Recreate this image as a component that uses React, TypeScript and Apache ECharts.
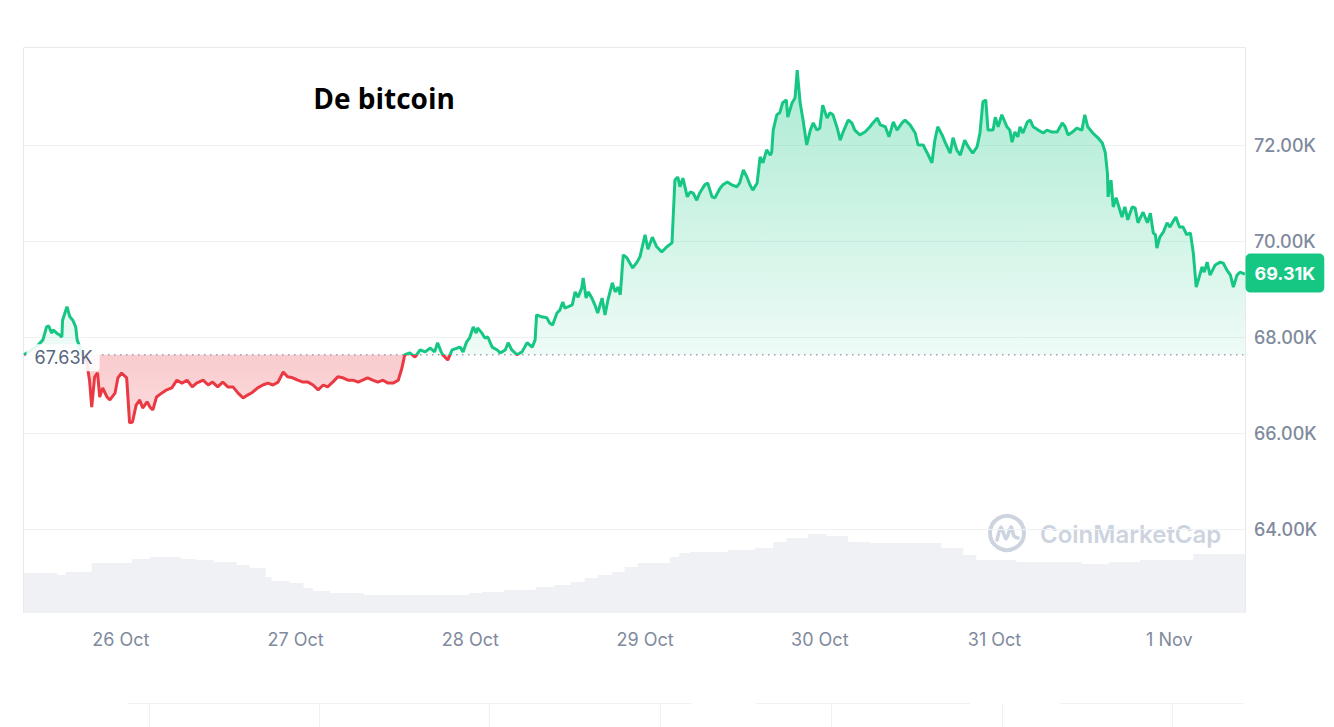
import React, { useEffect, useRef } from 'react';
import * as echarts from 'echarts';

const TITLE = 'De bitcoin';
const WATERMARK = 'CoinMarketCap';
const MONTHS = ['Jan', 'Feb', 'Mar', 'Apr', 'May', 'Jun', 'Jul', 'Aug', 'Sep', 'Oct', 'Nov', 'Dec'];

// hours relative to 26 Oct 2024 00:00
const X_MIN_H = -13.3;
const X_MAX_H = 154.4;
const BASELINE = 67630;
const LAST_PRICE = 69310;
const Y_MIN = 62000;
const Y_MAX = 74000;
const Y_STEP = 2000;

const HOURS = [-13.3,-12.5,-11.5,-10.7,-10.2,-9.9,-9.5,-9.3,-8.8,-8.4,-8.1,-8.0,-7.4,-7.0,-6.6,-6.2,-6.0,-5.4,-4.7,-4.3,-4.0,-3.6,-3.2,-2.9,-2.5,-1.9,-1.5,-0.8,-0.4,0.1,0.8,1.0,1.2,1.6,2.1,2.6,3.0,3.6,4.0,4.4,4.9,5.6,6.3,7.0,7.7,8.4,9.1,9.8,10.4,11.3,12.0,12.6,13.3,14.0,14.7,15.4,16.1,16.8,17.4,18.1,18.8,19.5,20.2,20.9,21.6,22.3,22.9,23.6,24.3,25.0,25.7,26.4,27.1,27.8,28.4,29.1,29.8,30.5,31.2,31.9,32.6,33.2,33.9,34.6,35.3,36.0,36.7,37.4,38.1,38.6,39.0,39.7,40.4,41.1,41.8,42.5,43.1,43.5,44.0,44.2,44.9,45.5,46.2,46.6,47.0,47.5,47.9,48.4,48.8,49.0,49.6,50.0,50.4,51.0,51.7,52.1,52.8,53.2,53.7,54.4,55.1,55.8,56.5,56.9,57.1,57.8,58.5,58.9,59.3,59.9,60.3,60.7,61.0,61.4,62.0,62.4,62.8,63.3,63.5,63.9,64.2,64.7,65.1,65.5,66.1,66.5,66.9,67.5,67.9,68.3,68.6,69.0,69.5,69.9,70.3,70.9,71.3,72.0,72.4,73.0,73.6,74.3,75.0,75.7,76.1,76.5,76.8,77.2,77.8,78.2,78.6,79.1,79.5,80.2,80.6,81.2,81.6,82.3,82.7,83.3,83.9,84.6,85.0,85.5,86.0,86.4,86.8,87.4,87.8,88.2,88.7,89.2,89.4,89.6,90.1,90.5,90.9,91.4,91.6,92.2,92.6,92.9,93.3,93.7,94.2,94.7,95.1,95.6,96.0,96.4,97.0,97.4,97.8,98.4,98.8,99.2,99.9,100.4,100.8,101.5,102.2,102.9,103.3,103.9,104.3,105.0,105.5,106.1,106.6,107.3,107.7,108.4,109.1,109.5,110.2,110.7,111.4,111.8,112.2,112.8,113.2,113.9,114.3,114.8,115.3,115.9,116.4,117.0,117.6,118.0,118.4,118.8,119.1,119.8,120.1,120.5,121.0,121.7,122.1,122.4,122.8,123.2,123.5,123.9,124.5,124.9,125.3,126.0,126.7,127.2,127.9,128.6,129.3,129.7,130.1,130.7,131.3,132.0,132.4,132.8,133.5,134.2,134.8,135.2,135.5,135.6,136.0,136.3,136.7,137.0,137.5,137.9,138.3,138.9,139.3,139.7,140.4,141.0,141.4,141.8,142.1,142.3,142.7,143.2,143.7,144.1,144.5,144.9,145.4,145.9,146.4,146.9,147.3,147.7,148.0,148.5,148.8,149.2,149.6,150.3,151.0,151.4,151.9,152.4,152.8,153.3,153.7,154.4];

const PRICES = [67630,67710,67810,67940,68210,68230,68080,68150,68080,68040,68000,68350,68630,68420,68350,68210,67940,67690,67480,67100,66540,67170,67250,66750,66940,66750,66690,66830,67150,67250,67150,66690,66210,66230,66580,66690,66520,66650,66540,66480,66750,66830,66900,66940,67100,67040,67100,66960,67040,67100,67000,67060,66960,67060,66960,66960,66830,66730,66790,66850,66940,67000,67040,67000,67060,67270,67170,67150,67100,67060,67060,67000,66900,67000,66960,67060,67170,67150,67100,67100,67060,67100,67150,67100,67060,67100,67040,67040,67100,67350,67630,67670,67580,67730,67690,67770,67690,67880,67690,67630,67520,67730,67770,67790,67690,67900,67980,68210,68080,68190,68080,67980,68000,67790,67730,67670,67730,67880,67730,67630,67690,67880,67790,67940,68460,68420,68400,68290,68250,68500,68560,68730,68600,68630,68670,68940,68830,69020,69230,68810,68940,68810,68670,68500,68810,68460,68770,69130,68940,69040,68880,69710,69650,69540,69440,69560,69670,70130,69830,70080,69880,69770,69880,69960,71270,71330,71130,71310,70920,71020,71000,70850,71000,71170,71210,70920,70900,71100,71170,71230,71170,71130,71210,71480,71330,71170,71060,71210,71750,71630,71900,71790,71850,72310,72630,72670,72880,72940,72580,72880,72980,73560,72880,72520,72000,72310,72460,72310,72350,72830,72560,72670,72630,72350,72100,72270,72520,72460,72310,72210,72270,72380,72460,72560,72420,72380,72170,72480,72310,72460,72520,72420,72250,72000,72000,71850,71630,72100,72380,72210,72060,71830,72150,71900,71790,72100,71960,71830,71960,72250,72900,72940,72310,72310,72580,72380,72630,72380,72310,72060,72270,72170,72380,72250,72480,72520,72380,72310,72250,72310,72270,72270,72460,72380,72210,72270,72350,72310,72630,72380,72250,72150,72040,71850,71420,70920,71270,70710,70900,70750,70500,70710,70440,70710,70690,70380,70600,70380,70580,70170,70130,69850,70080,70190,70380,70290,70400,70500,70290,70290,70130,70170,69750,69040,69190,69460,69350,69560,69290,69500,69560,69540,69400,69290,69040,69290,69350,69310];

const VOL_HOURS = [-13.3,-8.7,-7.6,-4.0,1.5,4.0,8.2,10.3,12.8,15.9,17.7,19.9,20.7,23.2,25.1,26.4,28.7,33.4,47.8,49.6,52.6,57.0,59.5,61.8,63.7,65.5,67.5,69.2,71.0,75.4,76.7,78.2,83.4,87.1,89.6,91.4,94.4,96.9,99.9,102.9,112.7,115.7,117.5,123.0,132.0,135.7,140.0,147.3,154.4];
const VOLUMES = [40,38,41,50,54,56,54,53,51,48,45,36,32,30,25,22,20,18,20,21,23,26,28,31,35,38,41,46,50,56,60,61,63,65,71,75,79,77,71,70,65,58,53,51,49,51,53,59,59];

const START_TIME = new Date(2024, 9, 26, 0, 0, 0).getTime();
const HOUR_MS = 3600 * 1000;
const DAY_MS = 24 * HOUR_MS;
const toTime = (h: number) => START_TIME + h * HOUR_MS;

const GREEN = '#16c784';
const RED = '#ea3943';
const AXIS_TEXT = '#808a9d';
const GRID_LINE = '#eff2f5';
const FONT = 'Inter, "Noto Sans", sans-serif';

export default function App() {
  const ref = useRef<HTMLDivElement>(null);

  useEffect(() => {
    if (!ref.current) return;
    const chart = echarts.init(ref.current, null, { renderer: 'svg' });

    const n = Math.min(HOURS.length, PRICES.length);
    const line: number[][] = [];
    const up: number[][] = [];
    const down: number[][] = [];
    for (let i = 0; i < n; i++) {
      const t = toTime(HOURS[i]);
      line.push([t, PRICES[i]]);
      up.push([t, Math.max(PRICES[i], BASELINE)]);
      down.push([t, Math.min(PRICES[i], BASELINE)]);
    }
    const vol = VOL_HOURS.map((h, i) => [toTime(h), VOLUMES[i]]);
    const xMin = toTime(X_MIN_H);
    const xMax = toTime(X_MAX_H);
    const fmtDay = (v: number) => {
      const d = new Date(v);
      if (d.getHours() !== 0 || d.getMinutes() !== 0) return '';
      return d.getDate() + ' ' + MONTHS[d.getMonth()];
    };
    const fmtK = (v: number) => (v / 1000).toFixed(2) + 'K';
    const nLines = Math.round((Y_MAX - Y_MIN) / Y_STEP) + 1;
    const splitColors: string[] = [];
    for (let i = 0; i < nLines; i++) {
      splitColors.push(i === 0 || i === nLines - 1 ? 'rgba(0,0,0,0)' : GRID_LINE);
    }

    chart.setOption({
      animation: false,
      textStyle: { fontFamily: FONT },
      grid: [
        { left: 24, right: 89, top: 49, bottom: 102, outerBoundsMode: 'none', containLabel: false },
        { left: 24, right: 89, top: 513, bottom: 114, outerBoundsMode: 'none', containLabel: false },
      ],
      xAxis: [
        {
          type: 'time', gridIndex: 0, min: xMin, max: xMax, show: false,
          splitLine: { show: false },
        },
        {
          type: 'time', gridIndex: 1, min: xMin, max: xMax,
          minInterval: DAY_MS, maxInterval: DAY_MS,
          axisLine: { show: false }, axisTick: { show: false }, splitLine: { show: false },
          axisLabel: {
            formatter: fmtDay, color: AXIS_TEXT, fontSize: 18, margin: 17, fontFamily: FONT,
          },
        },
      ],
      yAxis: [
        {
          type: 'value', gridIndex: 0, position: 'right',
          min: Y_MIN, max: Y_MAX, interval: Y_STEP,
          axisLine: { show: false }, axisTick: { show: false },
          splitLine: { show: true, lineStyle: { color: splitColors, width: 1 } },
          axisLabel: {
            formatter: (v: number) => (v <= Y_MIN || v >= Y_MAX ? '' : fmtK(v)),
            color: AXIS_TEXT, fontSize: 18, fontWeight: 500, margin: 9, fontFamily: FONT,
          },
        },
        { type: 'value', gridIndex: 1, min: 0, max: 100, show: false, splitLine: { show: false } },
      ],
      visualMap: {
        type: 'piecewise', show: false, seriesIndex: 3, dimension: 1,
        pieces: [
          { gte: 0, lt: BASELINE, color: RED },
          { gte: BASELINE, lte: 1000000, color: GREEN },
        ],
      },
      series: [
        {
          name: 'Volume', type: 'line', xAxisIndex: 1, yAxisIndex: 1, step: 'end',
          data: vol, symbol: 'none', silent: true, z: 1,
          lineStyle: { width: 0 },
          areaStyle: { color: '#eff1f5', opacity: 1 },
        },
        {
          name: 'Up', type: 'line', xAxisIndex: 0, yAxisIndex: 0, data: up, symbol: 'none', silent: true, z: 2,
          lineStyle: { width: 0 },
          areaStyle: {
            origin: BASELINE, opacity: 1,
            color: new echarts.graphic.LinearGradient(0, 0, 0, 1, [
              { offset: 0, color: 'rgba(22,199,132,0.36)' },
              { offset: 1, color: 'rgba(22,199,132,0.07)' },
            ]),
          },
        },
        {
          name: 'Down', type: 'line', xAxisIndex: 0, yAxisIndex: 0, data: down, symbol: 'none', silent: true, z: 2,
          lineStyle: { width: 0 },
          areaStyle: {
            origin: BASELINE, opacity: 1,
            color: new echarts.graphic.LinearGradient(0, 0, 0, 1, [
              { offset: 0, color: 'rgba(234,57,67,0.26)' },
              { offset: 1, color: 'rgba(234,57,67,0.18)' },
            ]),
          },
        },
        {
          name: 'Price', type: 'line', xAxisIndex: 0, yAxisIndex: 0, data: line, symbol: 'none', z: 4,
          lineStyle: { width: 3 },
        },
        {
          name: 'Baseline', type: 'line', xAxisIndex: 0, yAxisIndex: 0, symbol: 'none', silent: true, z: 3,
          data: [[xMin, BASELINE], [xMax, BASELINE]],
          lineStyle: { color: '#97a1b3', width: 1.5, type: [1.5, 4.5] },
        },
        {
          name: 'Labels', type: 'scatter', xAxisIndex: 0, yAxisIndex: 0, silent: true, z: 10, clip: false,
          symbolSize: 1, itemStyle: { color: 'rgba(255,255,255,0)', opacity: 1 },
          data: [
            {
              value: [xMin, BASELINE],
              label: {
                show: true, position: 'right', distance: 2, offset: [0, 3], formatter: fmtK(BASELINE),
                color: '#58667e', fontSize: 18, fontFamily: FONT, opacity: 1,
                backgroundColor: 'rgba(255,255,255,0.88)', padding: [5, 7, 4, 8], borderRadius: 4,
              },
            },
            {
              value: [xMax, LAST_PRICE],
              label: {
                show: true, position: 'right', distance: 0, offset: [0, -1], formatter: fmtK(LAST_PRICE),
                color: '#ffffff', fontSize: 18, fontWeight: 'bold', fontFamily: FONT, opacity: 1,
                backgroundColor: GREEN, padding: [11, 9, 10, 9], borderRadius: 5,
              },
            },
          ],
        },
      ],
      graphic: [
        {
          type: 'polyline', z: 0, silent: true,
          shape: { points: [[23.5, 613], [23.5, 47.5], [1245.5, 47.5], [1245.5, 613]] },
          style: { stroke: '#e8eaee', lineWidth: 1, fill: 'none' },
        },
        {
          type: 'text', z: 50, silent: true, x: 384, y: 98,
          style: {
            text: TITLE, fill: '#000000', font: 'bold 28px "Open Sans", sans-serif',
            align: 'center', verticalAlign: 'middle',
          },
        },
        {
          type: 'group', z: 50, silent: true, x: 1007, y: 533,
          children: [
            {
              type: 'circle', shape: { cx: 0, cy: 0, r: 17 },
              style: { fill: 'none', stroke: '#cdd4df', lineWidth: 4 },
            },
            {
              type: 'polyline',
              shape: { points: [[-10, 7], [-6, -6], [-1, 6], [4, -6], [7, 3], [11, 5]], smooth: 0.25 },
              style: { fill: 'none', stroke: '#cdd4df', lineWidth: 3.5, lineJoin: 'round', lineCap: 'round' },
            },
            {
              type: 'text', x: 33, y: 1,
              style: {
                text: WATERMARK, fill: '#cdd4df', font: '600 24px Inter, sans-serif',
                align: 'left', verticalAlign: 'middle',
              },
            },
          ],
        },
        {
          type: 'group', silent: true, z: 0,
          children: [
            { type: 'line', shape: { x1: 128, y1: 703.5, x2: 691, y2: 703.5 }, style: { stroke: GRID_LINE, lineWidth: 1 } },
            { type: 'line', shape: { x1: 756, y1: 703.5, x2: 970, y2: 703.5 }, style: { stroke: GRID_LINE, lineWidth: 1 } },
            { type: 'line', shape: { x1: 1060, y1: 703.5, x2: 1243, y2: 703.5 }, style: { stroke: GRID_LINE, lineWidth: 1 } },
            ...[149, 319, 489, 660, 831, 1002, 1172].map((x) => ({
              type: 'line', shape: { x1: x + 0.5, y1: 703, x2: x + 0.5, y2: 727 }, style: { stroke: GRID_LINE, lineWidth: 1 },
            })),
          ],
        },
      ],
    });

    return () => chart.dispose();
  }, []);

  return (
    <div
      ref={ref}
      style={{ position: 'absolute', left: 0, top: 0, width: 1334, height: 727, background: '#ffffff' }}
    />
  );
}
